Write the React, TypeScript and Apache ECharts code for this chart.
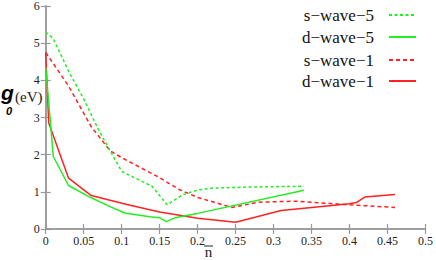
import React, { useEffect, useRef } from "react";
import * as echarts from "echarts";

const seriesNames = ["s\u2212wave\u22125", "d\u2212wave\u22125", "s\u2212wave\u22121", "d\u2212wave\u22121"];

const sWave5X = [0, 0.01, 0.03, 0.05, 0.07, 0.1, 0.12, 0.14, 0.15, 0.16, 0.18, 0.2, 0.22, 0.27, 0.34];
const sWave5Y = [5.3, 5.12, 4.25, 3.5, 2.65, 1.55, 1.35, 1.15, 0.9, 0.65, 0.92, 1.05, 1.1, 1.13, 1.15];

const dWave5X = [0, 0.01, 0.03, 0.058, 0.084, 0.104, 0.137, 0.15, 0.159, 0.17, 0.2, 0.34];
const dWave5Y = [4.35, 1.95, 1.17, 0.86, 0.61, 0.43, 0.33, 0.3, 0.2, 0.3, 0.42, 1.04];

const sWave1X = [0, 0.03, 0.06, 0.085, 0.1, 0.15, 0.175, 0.2, 0.245, 0.28, 0.33, 0.4, 0.46];
const sWave1Y = [4.75, 3.85, 2.75, 2.1, 1.92, 1.38, 1.07, 0.85, 0.58, 0.72, 0.75, 0.65, 0.58];

const dWave1X = [0, 0.004, 0.03, 0.06, 0.107, 0.15, 0.2, 0.25, 0.31, 0.4, 0.41, 0.42, 0.46];
const dWave1Y = [4.75, 2.85, 1.37, 0.9, 0.66, 0.46, 0.29, 0.18, 0.5, 0.68, 0.72, 0.86, 0.93];

const xTicks = { min: 0, max: 0.5, interval: 0.05 };
const yTicks = { min: 0, max: 6, interval: 1 };

const GREEN = "#22ee22";
const RED = "#ff2222";
const SERIF = "Liberation Serif";
const SANS = "Liberation Sans";

function pairs(xs: number[], ys: number[]) {
  return xs.map((x, i) => [x, ys[i]]);
}

export default function App() {
  const ref = useRef<HTMLDivElement>(null);
  useEffect(() => {
    if (!ref.current) return;
    const chart = echarts.init(ref.current, undefined, { renderer: "svg" });
    const frame = { lineStyle: { color: "#999", width: 1.5 } };
    const tick = { show: true, inside: true, length: 5, lineStyle: { color: "#999", width: 1.2 } };
    const legendRows = [15, 37, 60, 81];
    const styles = [
      { color: GREEN, type: [3, 2.5] },
      { color: GREEN, type: "solid" },
      { color: RED, type: [4, 3] },
      { color: RED, type: "solid" },
    ];
    const datas = [pairs(sWave5X, sWave5Y), pairs(dWave5X, dWave5Y), pairs(sWave1X, sWave1Y), pairs(dWave1X, dWave1Y)];
    chart.setOption({
      animation: false,
      grid: { left: 45.7, right: 9.3, top: 4, bottom: 31 },
      legend: seriesNames.map((n, i) => ({
        data: [n],
        right: 19,
        top: legendRows[i] - 8.5,
        orient: "vertical",
        align: "right",
        padding: 0,
        itemWidth: 27,
        itemHeight: 14,
        itemStyle: { opacity: 0 },
        textStyle: { fontFamily: SERIF, fontSize: 17, color: "#111", padding: [0, 10, 0, 0] },
      })),
      xAxis: [
        {
          type: "value",
          position: "bottom",
          ...xTicks,
          axisLine: frame,
          axisTick: tick,
          splitLine: { show: false },
          axisLabel: { fontFamily: SERIF, fontSize: 12, color: "#222", margin: 6 },
        },
        {
          type: "value",
          position: "top",
          ...xTicks,
          axisLine: frame,
          axisTick: tick,
          splitLine: { show: false },
          axisLabel: { show: false },
        },
      ],
      yAxis: [
        {
          type: "value",
          position: "left",
          ...yTicks,
          axisLine: { show: true, ...frame },
          axisTick: tick,
          splitLine: { show: false },
          axisLabel: { fontFamily: SERIF, fontSize: 12, color: "#222", margin: 6 },
        },
        {
          type: "value",
          position: "right",
          ...yTicks,
          axisLine: { show: true, ...frame },
          axisTick: tick,
          splitLine: { show: false },
          axisLabel: { show: false },
        },
      ],
      series: seriesNames.map((n, i) => ({
        name: n,
        type: "line",
        data: datas[i],
        symbol: "none",
        showSymbol: false,
        lineStyle: { width: 1.5, color: styles[i].color, type: styles[i].type },
        itemStyle: { color: styles[i].color },
        z: 4 - i,
      })),
      graphic: [
        {
          type: "text",
          x: 1,
          y: 92,
          style: { text: "g", fontFamily: SANS, fontStyle: "italic", fontWeight: "bold", fontSize: 21, fill: "#000", verticalAlign: "middle" },
        },
        {
          type: "text",
          x: 6,
          y: 111,
          style: { text: "0", fontFamily: SANS, fontStyle: "italic", fontWeight: "bold", fontSize: 11, fill: "#000", verticalAlign: "middle" },
        },
        {
          type: "text",
          x: 15,
          y: 97,
          style: { text: "(eV)", fontFamily: SERIF, fontSize: 15, fill: "#222", verticalAlign: "middle" },
        },
        {
          type: "text",
          x: 208.5,
          y: 252,
          style: { text: "n", fontFamily: SERIF, fontSize: 15, fill: "#222", align: "center", verticalAlign: "middle" },
        },
        {
          type: "line",
          shape: { x1: 204, y1: 246, x2: 213, y2: 246 },
          style: { stroke: "#222", lineWidth: 1 },
        },
      ],
    });
    return () => chart.dispose();
  }, []);
  return <div ref={ref} style={{ width: 436, height: 260, position: "absolute", left: 0, top: 0 }} />;
}
